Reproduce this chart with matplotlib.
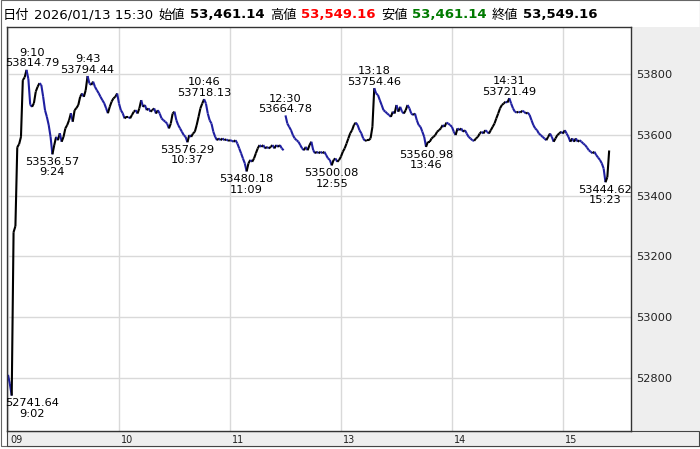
import matplotlib
matplotlib.use('Agg')
import matplotlib.pyplot as plt
from matplotlib.collections import LineCollection
from matplotlib.patches import Rectangle
import matplotlib.transforms as mtransforms
import numpy as np

plt.rcParams['font.family'] = ['DejaVu Sans', 'Noto Sans CJK JP']

# 1-minute closes, morning session 9:00 - 11:29
am_close = [
    52810, 52780, 52741.64, 53280, 53300, 53560, 53570, 53594, 53781, 53790,
    53814.79, 53785, 53700, 53693, 53705, 53743, 53759, 53771, 53765, 53726,
    53682, 53660, 53633, 53594, 53536.57, 53567, 53594, 53583, 53606, 53578,
    53594, 53622, 53633, 53649, 53672, 53644, 53682, 53689, 53699, 53726,
    53737, 53726, 53748, 53794.44, 53770, 53765, 53776, 53759, 53748, 53738,
    53726, 53715, 53705, 53689, 53672, 53693, 53710, 53721, 53726, 53737,
    53704, 53682, 53672, 53655, 53660, 53660, 53655, 53666, 53677, 53682,
    53671, 53688, 53715, 53693, 53699, 53682, 53688, 53677, 53682, 53688,
    53671, 53682, 53671, 53655, 53649, 53644, 53638, 53622, 53638, 53671,
    53677, 53649, 53633, 53622, 53611, 53600, 53594, 53576.29, 53600, 53594,
    53605, 53611, 53633, 53660, 53688, 53704, 53718.13, 53704, 53671, 53649,
    53638, 53611, 53594, 53583, 53589, 53583, 53589, 53583, 53586, 53581,
    53583, 53581, 53578, 53583, 53572, 53556, 53540, 53523, 53507, 53480.18,
    53507, 53518, 53512, 53523, 53540, 53556, 53567, 53561, 53567, 53556,
    53561, 53556, 53561, 53567, 53556, 53567, 53561, 53567, 53556, 53550,
]

# 1-minute closes, afternoon session 12:30 - 15:24, then the 15:30 close
pm_close = [
    53664.78, 53638, 53627, 53616, 53600, 53589, 53583, 53578, 53567, 53556,
    53550, 53561, 53550, 53567, 53578, 53550, 53540, 53545, 53540, 53545,
    53540, 53545, 53534, 53523, 53518, 53500.08, 53518, 53523, 53512, 53518,
    53529, 53545, 53556, 53572, 53589, 53606, 53616, 53633, 53641, 53633,
    53616, 53606, 53589, 53581, 53583, 53583, 53589, 53627, 53754.46, 53737,
    53732, 53715, 53699, 53682, 53677, 53671, 53666, 53660, 53677, 53671,
    53699, 53677, 53693, 53677, 53671, 53682, 53699, 53688, 53671, 53666,
    53671, 53649, 53633, 53627, 53611, 53594, 53560.98, 53578, 53578, 53589,
    53594, 53600, 53611, 53616, 53622, 53633, 53627, 53641, 53638, 53633,
    53627, 53611, 53600, 53622, 53616, 53622, 53611, 53616, 53605, 53594,
    53589, 53583, 53581, 53589, 53594, 53605, 53611, 53605, 53616, 53611,
    53605, 53616, 53627, 53638, 53655, 53671, 53688, 53699, 53704, 53710,
    53707, 53721.49, 53704, 53688, 53677, 53674, 53677, 53674, 53680, 53677,
    53671, 53674, 53666, 53649, 53633, 53622, 53616, 53605, 53600, 53594,
    53589, 53583, 53594, 53605, 53594, 53578, 53589, 53600, 53605, 53611,
    53605, 53616, 53605, 53594, 53578, 53589, 53578, 53589, 53578, 53583,
    53578, 53572, 53567, 53559, 53550, 53545, 53540, 53545, 53534, 53526,
    53518, 53507, 53490, 53444.62, 53461.14, 53549.16,
]

hour_ticks = [0, 60, 120, 180, 240, 300]
hour_labels = ['09', '10', '11', '13', '14', '15']
price_ticks = [52800, 53000, 53200, 53400, 53600, 53800]

ann_times = ['9:02', '9:10', '9:24', '9:43', '10:37', '10:46', '11:09',
             '12:30', '12:55', '13:18', '13:46', '14:31', '15:23']
ann_above = [False, True, False, True, False, True, False,
             True, False, True, False, True, False]

header_texts = ['日付', '2026/01/13 15:30', '始値', '53,461.14', '高値', '53,549.16',
                '安値', '53,461.14', '終値', '53,549.16']
header_bold = [False, False, False, True, False, True, False, True, False, True]
header_colors = ['black', 'black', 'black', 'black', 'black', '#ff0000',
                 'black', '#007a00', 'black', 'black']

UP = 'black'
DOWN = '#1f1fa0'
W, H = 700, 449


def minute_index(t):
    h, m = map(int, t.split(':'))
    total = h * 60 + m
    if total < 12 * 60:
        return total - 9 * 60
    return 150 + total - (12 * 60 + 30)


def add_line(ax, xs, ys):
    pts = np.column_stack([xs, ys])
    segs = np.stack([pts[:-1], pts[1:]], axis=1)
    colors = [UP if b >= a else DOWN for a, b in zip(ys[:-1], ys[1:])]
    ax.add_collection(LineCollection(segs, colors=colors, linewidths=1.5,
                                     capstyle='butt', joinstyle='miter'))


fig = plt.figure(figsize=(W / 100, H / 100), dpi=100)

# gray panels (price labels on the right, hour strip at the bottom)
fig.patches.append(Rectangle((631 / W, (H - 431) / H), 69 / W, 404 / H,
                             transform=fig.transFigure, facecolor='#eeeeee',
                             edgecolor='none', zorder=-2))
fig.patches.append(Rectangle((7 / W, (H - 446) / H), 692 / W, 15 / H,
                             transform=fig.transFigure, facecolor='#eeeeee',
                             edgecolor='#444444', lw=0.8, zorder=-2))
fig.patches.append(Rectangle((0.5 / W, (H - 446) / H), 699 / W, 446 / H,
                             transform=fig.transFigure, facecolor='none',
                             edgecolor='#666666', lw=0.8, zorder=-3))

ax = fig.add_axes([7 / W, (H - 431) / H, 624 / W, 404 / H])
ax.set_facecolor('white')

am_x = np.arange(len(am_close))
pm_x = np.arange(len(pm_close)) + len(am_close)
add_line(ax, am_x, np.array(am_close))
add_line(ax, pm_x, np.array(pm_close))

ax.set_xlim(-0.55, 336.8)
ax.set_ylim(52625, 53956)

ax.set_yticks(price_ticks)
ax.yaxis.tick_right()
ax.tick_params(axis='y', length=0, pad=4, labelsize=8.2, colors='#222222')
ax.set_xticks(hour_ticks)
ax.set_xticklabels(hour_labels)
ax.tick_params(axis='x', length=0, pad=3, labelsize=7, colors='#222222')
shift = mtransforms.ScaledTranslation(2 / 100, 0, fig.dpi_scale_trans)
for lab in ax.get_xticklabels():
    lab.set_horizontalalignment('left')
    lab.set_transform(lab.get_transform() + shift)

ax.grid(True, color='#d9d9d9', lw=1)
ax.set_axisbelow(True)
for sp in ax.spines.values():
    sp.set_color('#333333')
    sp.set_linewidth(1)

all_close = am_close + pm_close
anns = []
for t, above in zip(ann_times, ann_above):
    i = minute_index(t)
    v = all_close[i]
    if above:
        txt = f'{t}\n{v:.2f}'
        a = ax.annotate(txt, (i, v), xytext=(0, 1), textcoords='offset points',
                        ha='center', va='bottom', fontsize=8.2, linespacing=1.05)
    else:
        txt = f'{v:.2f}\n{t}'
        a = ax.annotate(txt, (i, v), xytext=(0, -2), textcoords='offset points',
                        ha='center', va='top', fontsize=8.2, linespacing=1.05)
    anns.append(a)

# header line
x = 3
for s, b, c in zip(header_texts, header_bold, header_colors):
    tx = fig.text(x / W, 1 - 15 / H, s, ha='left', va='center', color=c,
                  fontsize=9.5, fontweight='bold' if b else 'normal',
                  family=['DejaVu Sans', 'Noto Sans CJK JP'])
    fig.canvas.draw()
    x += tx.get_window_extent().width + 5

# keep labels inside the left edge of the plot
fig.canvas.draw()
axbox = ax.get_window_extent()
for a in anns:
    bb = a.get_window_extent()
    if bb.x0 < axbox.x0 - 2:
        dx = (axbox.x0 - 2 - bb.x0) * 72 / fig.dpi
        a.xyann = (a.xyann[0] + dx, a.xyann[1])

fig.savefig('out.png', dpi=100)
